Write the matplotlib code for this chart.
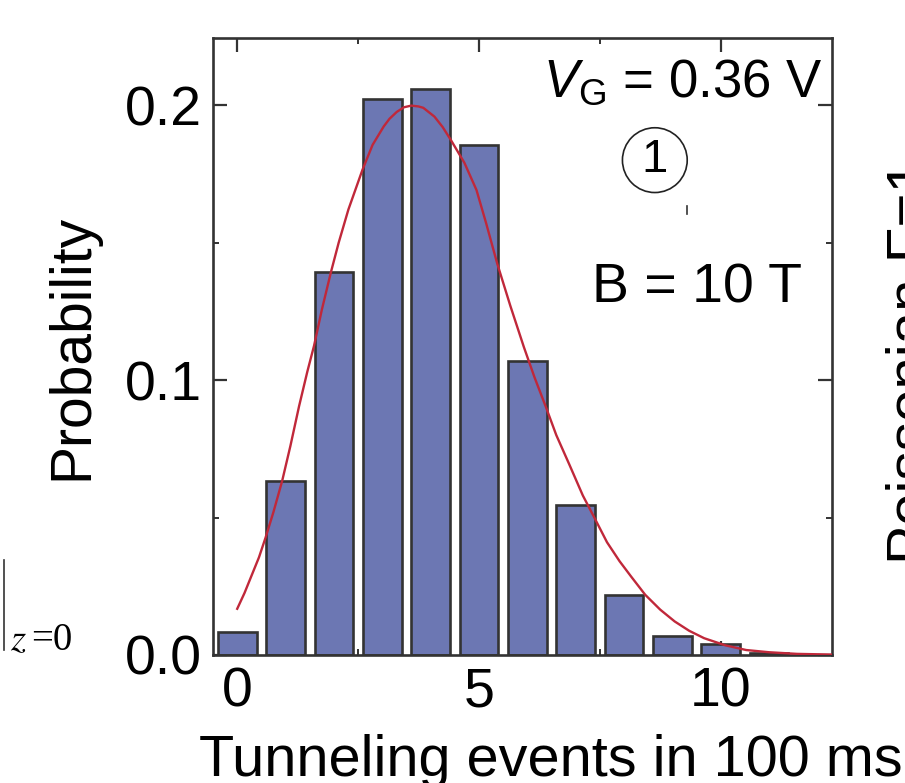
import matplotlib
matplotlib.use("Agg")
import matplotlib.pyplot as plt
from matplotlib.ticker import MultipleLocator, FormatStrFormatter

plt.rcParams['font.family'] = ['Liberation Sans', 'DejaVu Sans']
plt.rcParams['mathtext.fontset'] = 'custom'
plt.rcParams['mathtext.rm'] = 'Liberation Sans'
plt.rcParams['mathtext.it'] = 'Liberation Sans:italic'

# data
events = [0, 1, 2, 3, 4, 5, 6, 7, 8, 9, 10, 11]
probability = [0.0085, 0.0633, 0.1393, 0.2022, 0.2058, 0.1853, 0.1068, 0.0545,
               0.0219, 0.0070, 0.0039, 0.0007]
fit_x = [0.0, 0.15, 0.3, 0.45, 0.585, 0.75, 0.93, 1.1, 1.28, 1.45, 1.59, 1.75, 1.94,
         2.1, 2.3, 2.59, 2.8, 3.03, 3.15, 3.3, 3.45, 3.6, 3.75, 3.85, 4.08, 4.25,
         4.42, 4.7, 4.95, 5.15, 5.38, 5.65, 5.93, 6.15, 6.39, 6.6, 6.87, 7.15, 7.39,
         7.65, 7.91, 8.15, 8.44, 8.75, 9.05, 9.35, 9.66, 10.1, 10.53, 11.0, 11.58,
         12.45]
fit_y = [0.0168, 0.0225, 0.029, 0.0355, 0.0426, 0.052, 0.0633, 0.076, 0.0905, 0.103,
         0.1125, 0.1255, 0.1393, 0.150, 0.162, 0.1764, 0.1855, 0.1922, 0.195, 0.1975,
         0.1992, 0.1998, 0.1995, 0.1990, 0.1958, 0.192, 0.1873, 0.179, 0.1691, 0.157,
         0.1423, 0.127, 0.1120, 0.101, 0.0900, 0.080, 0.0693, 0.058, 0.0499, 0.041,
         0.0341, 0.0285, 0.0219, 0.0165, 0.0122, 0.0088, 0.0061, 0.0035, 0.0018,
         0.0010, 0.0004, 0.0001]

fig = plt.figure(figsize=(9.05, 7.83), dpi=100)
ax = fig.add_axes([0.2354, 0.1635, 0.6837, 0.788])

ax.bar(events, probability, width=0.8, color='#6c77b3', edgecolor='#333333',
       linewidth=1.9, zorder=2)
ax.plot(fit_x, fit_y, color='#c0283a', linewidth=1.7, zorder=3)

ax.set_xlim(-0.5, 12.3)
ax.set_ylim(0, 0.2244)
ax.xaxis.set_major_locator(MultipleLocator(5))
ax.xaxis.set_minor_locator(MultipleLocator(2.5))
ax.yaxis.set_major_locator(MultipleLocator(0.1))
ax.yaxis.set_minor_locator(MultipleLocator(0.05))
ax.yaxis.set_major_formatter(FormatStrFormatter('%.1f'))
ax.tick_params(which='major', direction='in', length=10, width=1.6, top=True,
               right=True, labelsize=40, pad=8, color='#333333')
ax.tick_params(which='minor', direction='in', length=4, width=1.4, top=True,
               right=True, color='#333333')
for s in ax.spines.values():
    s.set_linewidth(1.9)
    s.set_color('#333333')

ax.set_ylabel('Probability', fontsize=41, labelpad=18)
ax.set_xlabel('Tunneling events in 100 ms', fontsize=41.5, labelpad=10)
ax.xaxis.set_label_coords(0.546, -0.128)

ax.text(0.985, 0.905, r'$V_\mathrm{G}$ = 0.36 V', transform=ax.transAxes,
        fontsize=38, ha='right', va='baseline')
ax.text(0.952, 0.572, 'B = 10 T', transform=ax.transAxes,
        fontsize=40, ha='right', va='baseline')
ax.text(0.714, 0.802, '1', transform=ax.transAxes, fontsize=34,
        ha='center', va='center',
        bbox=dict(boxstyle='circle,pad=0.22', fc='none', ec='#222222', lw=1.2))
ax.plot([0.766, 0.766], [0.715, 0.728], transform=ax.transAxes,
        color='#333333', lw=1.2)

# neighbouring-panel fragments
fig.text(0.978, 0.28, 'Poissonian F=1', rotation=90, fontsize=42,
         ha='left', va='bottom')
fig.add_artist(plt.Line2D([0.004, 0.004], [0.17, 0.285], color='#333333',
                          lw=1.2, transform=fig.transFigure))
fig.text(0.011, 0.17, r'$z$', fontsize=28, ha='left', va='baseline',
         family='Liberation Serif', math_fontfamily='stix')
fig.text(0.034, 0.17, '=0', fontsize=28, ha='left', va='baseline',
         family='Liberation Serif')

fig.savefig('out.png', dpi=100)
